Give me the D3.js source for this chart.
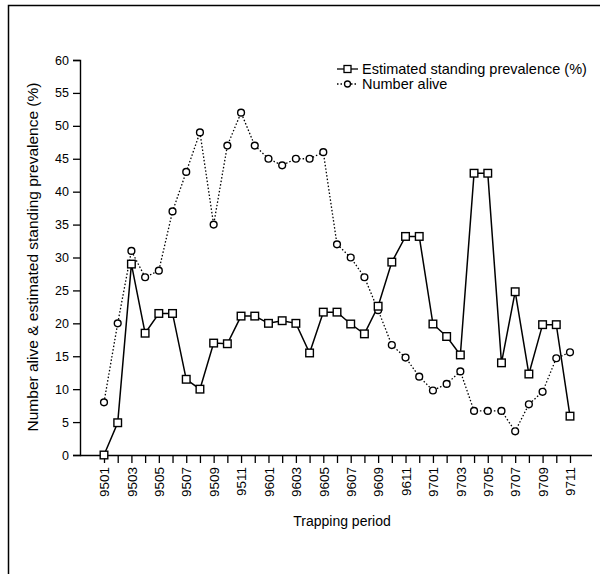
<!DOCTYPE html>
<html><head><meta charset="utf-8">
<script src="https://cdn.jsdelivr.net/npm/d3@7"></script>
<style>body{margin:0;background:#fff}svg{display:block}text{font-family:"Liberation Sans",Arial,sans-serif;fill:#000}</style>
</head><body><svg id="c" width="600" height="574"></svg>
<script>
const periods = ["9501","9502","9503","9504","9505","9506","9507","9508","9509","9510","9511","9512",
  "9601","9602","9603","9604","9605","9606","9607","9608","9609","9610","9611","9612",
  "9701","9702","9703","9704","9705","9706","9707","9708","9709","9710","9711"];
const prevalence = [0,4.9,29,18.5,21.5,21.5,11.5,10,17,16.9,21.1,21.1,20,20.4,20,15.5,21.7,21.7,
  19.9,18.4,22.6,29.3,33.2,33.2,19.9,18,15.2,42.8,42.8,14,24.8,12.3,19.8,19.8,5.9];
const numberAlive = [8,20,31,27,28,37,43,49,35,47,52,47,45,44,45,45,46,32,
  30,27,22,16.7,14.8,11.9,9.8,10.8,12.7,6.7,6.7,6.7,3.6,7.7,9.6,14.7,15.6];
const yTicks = [0,5,10,15,20,25,30,35,40,45,50,55,60];
const tickLabels = ["9501","9503","9505","9507","9509","9511","9601","9603","9605","9607","9609","9611","9701","9703","9705","9707","9709","9711"];
const seriesNames = ["Estimated standing prevalence (%)","Number alive"];

const svg = d3.select("#c");
// frame
svg.append("path").attr("d","M8.5,574 V5.5 H600").attr("fill","none").attr("stroke","#000").attr("stroke-width",1.5);

const x = d3.scalePoint().domain(periods).range([104,570]);
const y = d3.scaleLinear().domain([0,60]).range([455,60]);

// y axis
const ya = svg.append("g").attr("transform","translate(80,0)")
  .call(d3.axisLeft(y).tickValues(yTicks).tickSize(7).tickPadding(4));
ya.select(".domain").attr("stroke-width",1.4);
ya.selectAll("line").attr("stroke-width",1.3);
ya.selectAll("text").style("font-size","12.5px");
// x axis
const xa = svg.append("g").attr("transform","translate(0,455)")
  .call(d3.axisBottom(x).tickSize(8).tickFormat(d => tickLabels.includes(d) ? d : ""));
xa.select(".domain").attr("d","M80,0.5H592").attr("stroke-width",1.4);
xa.selectAll("line").attr("stroke-width",1.3);
xa.selectAll("text").style("font-size","13.5px")
  .attr("transform","rotate(-90)").attr("text-anchor","end")
  .attr("x",-12).attr("y",0).attr("dy","0.35em");

svg.append("text").attr("x",342).attr("y",526).attr("text-anchor","middle")
  .style("font-size","14px").text("Trapping period");
svg.append("text").attr("transform","translate(38,257) rotate(-90)").attr("text-anchor","middle")
  .style("font-size","15.5px").text("Number alive & estimated standing prevalence (%)");

const line = d3.line().x((d,i)=>x(periods[i])).y(d=>y(d));
svg.append("path").datum(numberAlive).attr("d",line).attr("fill","none")
  .attr("stroke","#000").attr("stroke-width",1.3).attr("stroke-dasharray","1.5,2");
svg.append("path").datum(prevalence).attr("d",line).attr("fill","none")
  .attr("stroke","#000").attr("stroke-width",1.5);

svg.append("g").selectAll("circle").data(numberAlive).join("circle")
  .attr("cx",(d,i)=>x(periods[i])).attr("cy",d=>y(d)).attr("r",3.4)
  .attr("fill","#fff").attr("stroke","#000").attr("stroke-width",1.4);
svg.append("g").selectAll("rect").data(prevalence).join("rect")
  .attr("x",(d,i)=>x(periods[i])-3.8).attr("y",d=>y(d)-3.8).attr("width",7.6).attr("height",7.6)
  .attr("fill","#fff").attr("stroke","#000").attr("stroke-width",1.4);

// legend
const lg = svg.append("g");
lg.append("line").attr("x1",337).attr("x2",358).attr("y1",69).attr("y2",69).attr("stroke","#000").attr("stroke-width",1.3);
lg.append("rect").attr("x",344).attr("y",65.5).attr("width",7).attr("height",7).attr("fill","#fff").attr("stroke","#000").attr("stroke-width",1.3);
lg.append("line").attr("x1",337).attr("x2",358).attr("y1",84).attr("y2",84).attr("stroke","#000").attr("stroke-width",1.3).attr("stroke-dasharray","1.5,2");
lg.append("circle").attr("cx",347.5).attr("cy",84).attr("r",3).attr("fill","#fff").attr("stroke","#000").attr("stroke-width",1.3);
lg.selectAll("text").data(seriesNames).join("text").attr("x",362).attr("y",(d,i)=>69+i*15).attr("dy","0.35em")
  .style("font-size","14.5px").text(d=>d);
</script></body></html>
